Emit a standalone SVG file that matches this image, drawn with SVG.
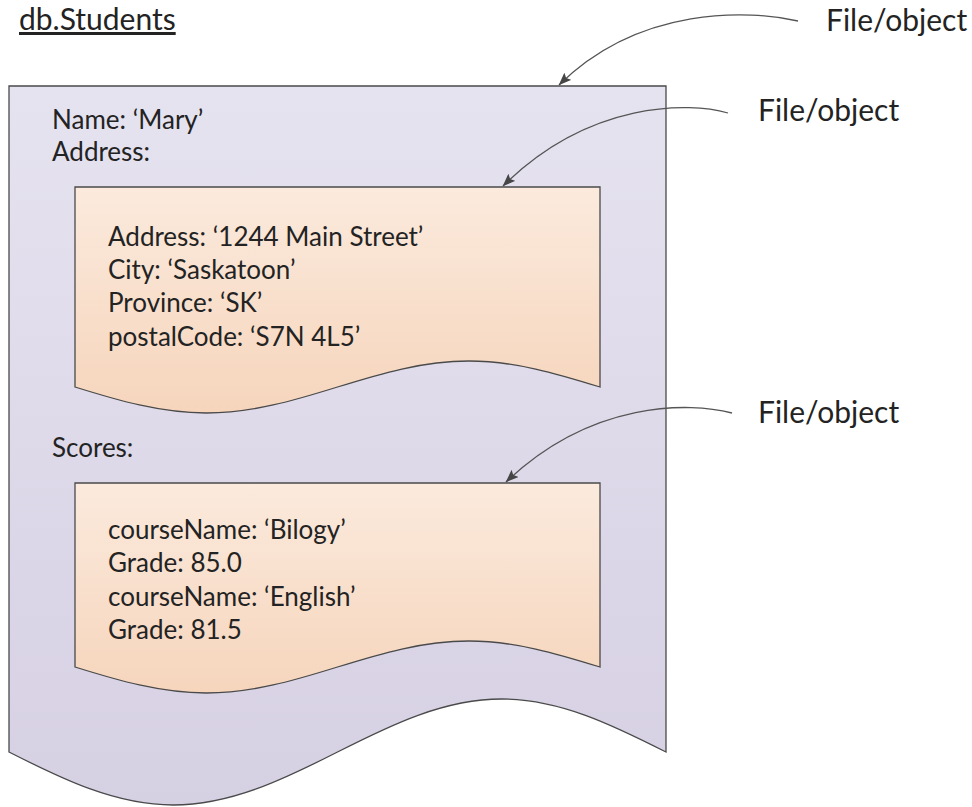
<svg xmlns="http://www.w3.org/2000/svg" width="972" height="807" viewBox="0 0 972 807">
  <defs>
    <linearGradient id="gradLavender" x1="0" y1="0" x2="0" y2="1">
      <stop offset="0" stop-color="#e6e3f0"/>
      <stop offset="1" stop-color="#d6d0e3"/>
    </linearGradient>
    <linearGradient id="gradPeach" x1="0" y1="0" x2="0" y2="1">
      <stop offset="0" stop-color="#fbeadd"/>
      <stop offset="1" stop-color="#f6d5bc"/>
    </linearGradient>
    <marker id="arrowHead" viewBox="0 0 13 10" refX="12.5" refY="5" markerWidth="13" markerHeight="10" markerUnits="userSpaceOnUse" orient="auto">
      <path d="M0,0 L13,5 L0,10 L2.5,5 Z" fill="#464646"/>
    </marker>
    <style>
      .doc { stroke: #4a4a4a; stroke-width: 1.3; }
      .txt { font-family: Lato, "Liberation Sans", sans-serif; font-size: 26px; fill: #232323; }
      .lbl { font-family: Lato, "Liberation Sans", sans-serif; font-size: 30px; fill: #232323; }
      .conn { fill: none; stroke: #555555; stroke-width: 1.3; marker-end: url(#arrowHead); }
    </style>
  </defs>

  <rect width="972" height="807" fill="#ffffff"/>

  <!-- collection title -->
  <g id="title">
    <text class="lbl" x="19" y="30" text-decoration="underline">db.Students</text>
  </g>

  <!-- outer document: the student record -->
  <g id="student-doc">
    <path class="doc" fill="url(#gradLavender)" d="M9,86 H666 V752 C612.45,724.8 559.45,699 501.75,699 C444,699 391,724.8 337.5,752 C283.95,779.2 230.95,805 173.25,805 C115.5,805 62.5,779.2 9,752 Z"/>
    <text class="txt" x="52" y="128.5">Name: ‘Mary’</text>
    <text class="txt" x="52" y="161">Address:</text>
    <text class="txt" x="52" y="457">Scores:</text>
  </g>

  <!-- embedded address document -->
  <g id="address-doc">
    <path class="doc" fill="url(#gradPeach)" d="M75,187 H600 V387 C557.25,373.7 514.85,361 468.75,361 C422.6,361 380.3,373.7 337.5,387 C294.75,400.3 252.35,413 206.25,413 C160.1,413 117.8,400.3 75,387 Z"/>
    <text class="txt" x="108" y="245.5">Address: ‘1244 Main Street’</text>
    <text class="txt" x="108" y="279">City: ‘Saskatoon’</text>
    <text class="txt" x="108" y="312.3">Province: ‘SK’</text>
    <text class="txt" x="108" y="345.6">postalCode: ‘S7N 4L5’</text>
  </g>

  <!-- embedded scores document -->
  <g id="scores-doc">
    <path class="doc" fill="url(#gradPeach)" d="M75,483 H600 V667 C557.25,653.7 514.85,641 468.75,641 C422.6,641 380.3,653.7 337.5,667 C294.75,680.3 252.35,693 206.25,693 C160.1,693 117.8,680.3 75,667 Z"/>
    <text class="txt" x="108" y="539">courseName: ‘Bilogy’</text>
    <text class="txt" x="108" y="572.3">Grade: 85.0</text>
    <text class="txt" x="108" y="605.6">courseName: ‘English’</text>
    <text class="txt" x="108" y="639">Grade: 81.5</text>
  </g>

  <!-- callout labels -->
  <g id="label-outer">
    <text class="lbl" x="826" y="30.5">File/object</text>
  </g>
  <g id="label-address">
    <text class="lbl" x="758" y="121">File/object</text>
  </g>
  <g id="label-scores">
    <text class="lbl" x="758" y="423">File/object</text>
  </g>

  <!-- callout connectors -->
  <g id="connectors">
    <path class="conn" d="M798,21 C750,10 640,5 559,85"/>
    <path class="conn" d="M728,113 C690,102 590,100 503,186"/>
    <path class="conn" d="M732,413 C690,402 592,400 506,482"/>
  </g>
</svg>
